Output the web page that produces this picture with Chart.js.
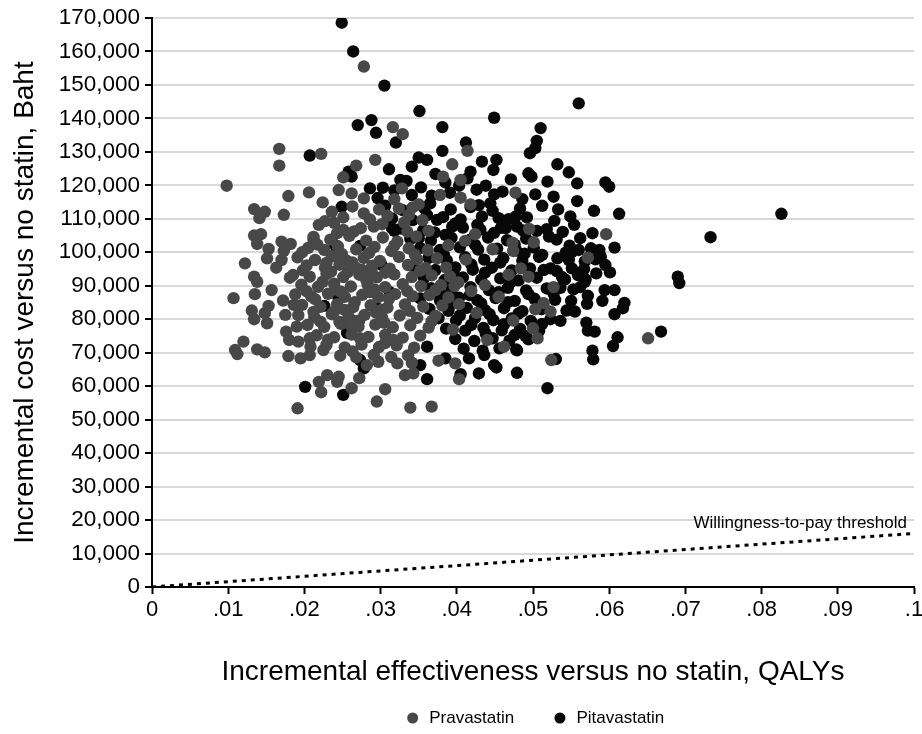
<!DOCTYPE html>
<html>
<head>
<meta charset="utf-8">
<script src="https://cdn.jsdelivr.net/npm/chart.js@4.4.0/dist/chart.umd.min.js"></script>
<style>
  html, body { margin: 0; padding: 0; background: #fff; }
</style>
</head>
<body>
<canvas id="myChart" width="922" height="734"></canvas>
<script>
// Axis labels and ticks
const xTitle = 'Incremental effectiveness versus no statin, QALYs';
const yTitle = 'Incremental cost versus no statin, Baht';
const xTickLabels = ['0', '.01', '.02', '.03', '.04', '.05', '.06', '.07', '.08', '.09', '.1'];
const seriesNames = ['Pravastatin', 'Pitavastatin'];
const seriesColors = ['#484848', '#080808'];

// Willingness-to-pay threshold line (QALY, Baht)
const wtpLabel = 'Willingness-to-pay threshold';
const wtpQaly = [0, 0.1];
const wtpCost = [0, 16000];

// Pravastatin simulations: [incremental QALY, incremental cost in Baht]
const pravastatin = [
  [.0098,119900],[.0167,130900],[.0167,125900],[.0222,129400],[.0179,116800],[.0206,117900],[.0224,114900],
  [.0134,112900],[.0148,112100],[.0141,110200],[.0173,111200],[.0219,108200],[.0134,105000],[.0143,105400],
  [.0138,102500],[.0153,101000],[.0170,103200],[.0182,102500],[.0173,100400],[.0151,98200],[.0170,97700],
  [.0122,96700],[.0163,95400],[.0197,100000],[.0212,103700],[.0134,92700],[.0181,92400],[.0107,86300],
  [.0135,87500],[.0157,88700],[.0138,91200],[.0131,82600],[.0134,80000],[.0148,81800],[.0153,84000],
  [.0151,78800],[.0120,73300],[.0109,70800],[.0112,69600],[.0138,71000],[.0148,70100],[.0179,69000],
  [.0195,68300],[.0207,69300],[.0225,70800],[.0230,63300],[.0219,61300],[.0222,58200],[.0191,53400],
  [.0172,85600],[.0186,84300],[.0175,81300],[.0190,77800],[.0176,76300],[.0180,73800],[.0192,73300],
  [.0207,74300],[.0208,71800],[.0295,55400],[.0339,53600],[.0367,53900],[.0306,59100],[.0243,61300],
  [.0262,59400],[.0272,62400],[.0332,63300],[.0343,63800],[.0403,62100],[.0398,66800],[.0376,67600],
  [.0322,66800],[.0341,67000],[.0297,67300],[.0282,66300],[.0245,62800],[.0462,71800],[.0440,73800],
  [.0278,155500],[.0316,137400],[.0329,135300],[.0293,127600],[.0414,130300],[.0268,125900],[.0251,122400],
  [.0394,126300],[.0382,122600],[.0405,121600],[.0328,119100],[.0245,118600],[.0262,117600],[.0278,116100],
  [.0350,114300],[.0378,117100],[.0405,116300],[.0418,114300],[.0236,112100],[.0324,113100],[.0278,111600],
  [.0337,111100],[.0424,105400],[.0411,103400],[.0363,106400],[.0335,106200],[.0302,108400],[.0291,107700],
  [.0251,106700],[.0243,105700],[.0265,106200],[.0477,117800],[.0495,107000],[.0501,103000],[.0596,105400],
  [.0572,98400],[.0484,95200],[.0473,102900],[.0474,100400],[.0494,92700],[.0651,74300],[.0524,67800],
  [.0527,89600],[.0523,82300],[.0514,84800],[.0503,83000],[.0500,77300],[.0506,74300],
  [.0227,109300],[.0251,110400],[.0286,109800],[.0309,110900],[.0331,108900],
  [.0212,104600],[.0234,103800],[.0259,104900],[.0281,103500],[.0303,104400],[.0322,103200],[.0347,104700],
  [.0205,101300],[.0226,100700],[.0244,101800],[.0268,100900],[.0292,101600],[.0314,100400],[.0337,101200],[.0362,100600],
  [.0191,98500],[.0214,97700],[.0236,98800],[.0255,97600],[.0278,98300],[.0299,97400],[.0324,98600],[.0348,97900],[.0374,98200],
  [.0203,96100],[.0227,95400],[.0246,96300],[.0269,95200],[.0289,96000],[.0312,95100],[.0336,96200],[.0359,95300],
  [.0185,93200],[.0207,92700],[.0229,93500],[.0251,92600],[.0272,93300],[.0295,92500],[.0318,93400],[.0341,92600],[.0367,93100],[.0391,92800],
  [.0196,90300],[.0218,89700],[.0239,90600],[.0261,89800],[.0283,90400],[.0306,89600],[.0329,90500],[.0353,89900],[.0379,90200],
  [.0188,87400],[.0209,86800],[.0231,87600],[.0253,86700],[.0276,87300],[.0297,86600],[.0319,87500],[.0342,86900],[.0364,87200],[.0389,86500],
  [.0197,84300],[.0221,83700],[.0243,84500],[.0264,83600],[.0287,84200],[.0309,83500],[.0332,84400],[.0356,83800],[.0381,84100],
  [.0192,81200],[.0213,80600],[.0236,81500],[.0258,80700],[.0279,81300],[.0302,80500],[.0325,81100],[.0348,80400],[.0372,81000],
  [.0204,78300],[.0226,77700],[.0248,78600],[.0271,77800],[.0293,78400],[.0316,77600],[.0339,78200],[.0363,77500],
  [.0216,75200],[.0239,74600],[.0262,75400],[.0284,74700],[.0306,75300],[.0329,74500],[.0352,75100],
  [.0229,72300],[.0253,71600],[.0275,72400],[.0298,71700],[.0321,72200],[.0344,71500],
  [.0247,69100],[.0268,68600],[.0291,69300],[.0314,68700],[.0336,69200],
  [.0224,91200],[.0248,88200],[.0266,85100],[.0281,91800],[.0239,82300],[.0257,94100],[.0292,88900],[.0214,86000],
  [.0272,79600],[.0229,96800],[.0301,82800],[.0246,79200],[.0263,97000],[.0288,94600],[.0311,86100],
  [.0412,97800],[.0437,90200],[.0455,86700],[.0426,81900],[.0468,93300],[.0403,84500],[.0447,100900],
  [.0389,102100],[.0419,88400],[.0474,79600],[.0395,76900],
  [.0217,102300],[.0249,99500],[.0285,99800],[.0318,102000],[.0345,99300],[.0198,94600],[.0235,94200],
  [.0276,94700],[.0306,93900],[.0352,94500],[.0203,88300],[.0241,88900],[.0286,88100],[.0335,88400],
  [.0372,88700],[.0212,82200],[.0253,82800],[.0294,82000],[.0338,82500],[.0367,79400],[.0221,79300],
  [.0261,78200],[.0305,78900],[.0231,73900],[.0273,74300],[.0317,73800],[.0263,70400],[.0306,72900],
  [.0397,89900],[.0386,95400],[.0402,91000],[.0239,108800],[.0263,113700],[.0298,112800],[.0318,115900],
  [.0342,113400],[.0355,109600],[.0274,107200]
];

// Pitavastatin simulations: [incremental QALY, incremental cost in Baht]
const pitavastatin = [
  [.0249,168600],[.0264,160000],[.0305,149800],[.0351,142200],[.0449,140200],[.0270,138000],[.0288,139500],
  [.0294,135700],[.0381,137400],[.0412,132800],[.0320,132800],[.0560,144500],[.0510,137100],[.0505,133300],
  [.0207,128900],[.0381,130300],[.0350,128300],[.0361,127600],[.0258,124100],[.0262,122600],[.0341,125600],
  [.0433,127100],[.0452,127600],[.0448,124600],[.0418,124100],[.0385,120900],[.0414,122100],[.0438,119900],
  [.0326,121600],[.0303,119300],[.0286,119100],[.0341,117100],[.0365,114600],[.0429,114100],[.0444,114600],
  [.0460,118100],[.0249,113600],[.0306,113900],[.0361,111100],[.0374,109700],[.0455,110200],[.0464,107200],
  [.0427,108200],[.0394,107700],[.0385,105200],[.0350,104200],[.0315,107200],[.0240,102200],
  [.0503,131100],[.0496,129600],[.0532,126300],[.0547,123900],[.0494,123600],[.0498,122600],[.0519,121100],
  [.0558,120600],[.0595,120900],[.0600,119600],[.0486,115900],[.0558,115300],[.0580,112400],[.0613,111500],
  [.0528,109400],[.0554,108200],[.0477,110600],[.0479,107700],[.0505,106400],[.0607,101400],[.0548,102000],
  [.0560,100700],[.0576,101200],[.0587,100700],[.0589,98700],[.0595,96200],[.0601,94000],[.0583,93700],
  [.0551,95200],[.0532,98200],[.0512,99200],[.0523,95200],[.0514,94700],[.0569,91900],
  [.0826,111500],[.0733,104500],[.0690,92700],[.0692,90800],[.0594,88700],[.0607,88700],[.0591,85500],
  [.0620,84900],[.0618,83300],[.0607,81500],[.0668,76300],[.0611,74600],
  [.0519,59400],[.0530,68100],[.0479,64000],[.0579,68000],[.0578,70600],[.0605,72000],[.0570,79000],
  [.0572,76600],[.0581,76300],[.0536,79500],[.0572,87000],[.0550,85500],[.0562,89600],[.0568,91200],
  [.0512,78600],[.0490,75000],[.0478,71000],
  [.0251,57400],[.0361,62100],[.0405,63600],[.0429,63800],[.0449,66300],[.0452,65600],[.0436,69300],
  [.0416,68300],[.0385,68300],[.0352,66300],[.0361,71800],[.0278,65300],[.0273,67800],[.0201,59800],
  [.0329,112600],[.0357,113300],[.0392,112800],[.0418,113500],[.0447,112400],[.0483,113100],
  [.0315,110100],[.0342,109600],[.0382,110500],[.0405,109800],[.0433,110700],[.0468,109900],[.0492,110400],
  [.0327,107100],[.0356,106600],[.0408,107400],[.0431,106800],[.0458,107300],[.0487,106500],[.0518,106900],
  [.0339,104000],[.0366,103500],[.0393,104300],[.0417,103700],[.0441,104400],[.0466,103600],[.0491,104100],[.0531,103800],
  [.0352,101300],[.0378,100700],[.0404,101500],[.0428,100800],[.0453,101100],[.0478,100500],[.0501,101400],[.0551,100100],
  [.0363,98300],[.0387,97600],[.0411,98500],[.0436,97800],[.0461,98200],[.0486,97500],[.0508,98600],[.0547,97700],
  [.0345,95300],[.0372,94700],[.0398,95500],[.0421,94800],[.0446,95400],[.0472,94600],[.0496,95200],[.0531,94400],[.0567,95000],
  [.0357,92300],[.0384,91700],[.0408,92500],[.0432,91800],[.0457,92200],[.0481,91600],[.0505,92400],[.0542,91900],
  [.0366,89300],[.0393,88800],[.0418,89600],[.0442,88700],[.0467,89400],[.0491,88600],[.0518,89200],[.0553,88900],
  [.0352,86200],[.0378,85600],[.0403,86400],[.0427,85700],[.0451,86300],[.0476,85500],[.0502,86100],[.0529,85800],
  [.0364,83100],[.0389,82500],[.0413,83400],[.0437,82700],[.0462,83300],[.0486,82400],[.0511,83000],[.0544,82600],
  [.0376,80300],[.0399,79600],[.0424,80400],[.0448,79700],[.0472,80200],[.0497,79500],[.0523,80000],
  [.0386,77200],[.0411,76600],[.0435,77400],[.0459,76700],[.0483,77100],[.0508,76500],
  [.0398,74100],[.0423,73500],[.0447,74300],[.0469,73600],[.0494,74000],
  [.0409,71200],[.0434,70600],[.0456,71300],[.0479,70700],
  [.0245,86100],[.0282,92200],[.0265,79400],[.0301,96300],[.0239,99100],[.0226,84000],[.0296,83200],
  [.0312,88100],[.0273,101900],[.0318,106400],[.0256,75900],
  [.0296,116200],[.0318,118500],[.0334,121300],[.0353,119400],[.0372,123400],[.0391,117800],[.0403,119900],
  [.0426,118700],[.0311,124800],[.0367,116900],[.0449,117300],[.0471,121800],
  [.0521,104700],[.0539,106100],[.0562,104200],[.0543,99900],[.0568,97300],[.0538,92600],[.0559,93200],
  [.0527,87600],[.0571,84600],[.0555,82300],[.0536,89400],[.0582,97900],[.0549,110700],[.0533,112800],
  [.0512,113900],[.0503,117300],[.0527,116600],[.0578,105700],
  [.0371,105900],[.0398,108600],[.0424,102200],[.0449,105800],[.0476,102300],[.0383,99200],[.0419,96400],
  [.0457,96900],[.0489,99600],[.0396,93300],[.0437,93900],[.0471,91200],[.0379,87600],[.0417,87200],
  [.0455,88100],[.0494,87500],[.0391,84300],[.0432,84700],[.0467,85100],[.0404,81100],[.0443,81500],
  [.0481,81700],[.0419,78300],[.0462,78500],[.0501,78200],[.0438,75700],[.0476,75300]
];

const fontFamily = '"Liberation Sans", Arial, Helvetica, sans-serif';
Chart.defaults.font.family = fontFamily;
Chart.defaults.color = '#000';

const toPoints = arr => arr.map(p => ({ x: p[0], y: p[1] }));

// Legend drawn under the x-axis title
const bottomLegend = {
  id: 'bottomLegend',
  afterDraw(chart) {
    const { ctx, chartArea } = chart;
    ctx.save();
    ctx.font = '17px ' + fontFamily;
    ctx.textBaseline = 'middle';
    ctx.textAlign = 'left';
    const widths = seriesNames.map(n => 21.5 + ctx.measureText(n).width);
    const gap = 40.7;
    const total = widths.reduce((a, b) => a + b, 0) + gap * (seriesNames.length - 1);
    let x = (chartArea.left + chartArea.right) / 2 + 3 - total / 2;
    const y = 718;
    seriesNames.forEach((n, i) => {
      ctx.fillStyle = seriesColors[i];
      ctx.beginPath();
      ctx.arc(x + 5, y, 5.5, 0, Math.PI * 2);
      ctx.fill();
      ctx.fillStyle = '#000';
      ctx.fillText(n, x + 21.5, y);
      x += widths[i] + gap;
    });
    ctx.restore();
  }
};

// Label of the threshold line
const wtpText = {
  id: 'wtpText',
  afterDatasetsDraw(chart) {
    const { ctx, scales } = chart;
    const x = scales.x.getPixelForValue(wtpQaly[1]) - 7;
    const y = scales.y.getPixelForValue(wtpCost[1]) - 10;
    ctx.save();
    ctx.font = '17px ' + fontFamily;
    ctx.fillStyle = '#000';
    ctx.textAlign = 'right';
    ctx.textBaseline = 'middle';
    ctx.fillText(wtpLabel, x, y);
    ctx.restore();
  }
};

const ctx = document.getElementById('myChart').getContext('2d');

const myChart = new Chart(ctx, {
  type: 'scatter',
  data: {
    datasets: [
      {
        label: seriesNames[0],
        data: toPoints(pravastatin),
        backgroundColor: seriesColors[0],
        pointRadius: 6.2,
        pointBorderWidth: 0,
        pointHoverRadius: 6.2
      },
      {
        label: seriesNames[1],
        data: toPoints(pitavastatin),
        backgroundColor: seriesColors[1],
        pointRadius: 6.2,
        pointBorderWidth: 0,
        pointHoverRadius: 6.2
      },
      {
        label: wtpLabel,
        data: wtpQaly.map((q, i) => ({ x: q, y: wtpCost[i] })),
        showLine: true,
        borderColor: '#000',
        borderWidth: 3,
        borderDash: [4, 5],
        pointRadius: 0,
        fill: false
      }
    ]
  },
  options: {
    responsive: false,
    animation: false,
    events: [],
    layout: { padding: { top: 18, right: 8, bottom: 37, left: 0 } },
    plugins: {
      legend: { display: false },
      tooltip: { enabled: false }
    },
    scales: {
      x: {
        type: 'linear',
        min: 0,
        max: 0.1,
        ticks: {
          stepSize: 0.01,
          autoSkip: false,
          maxRotation: 0,
          padding: 3,
          color: '#000',
          font: { size: 22 },
          callback: (v, i) => xTickLabels[i]
        },
        grid: { drawOnChartArea: false, tickColor: '#000', tickLength: 7, tickWidth: 2 },
        border: { color: '#000', width: 2 },
        title: { display: true, text: xTitle, color: '#000', font: { size: 28 }, padding: { top: 0, bottom: 8 } },
        afterFit(s) { s.height = 110; s.paddingLeft = 0; s.paddingRight = 0; }
      },
      y: {
        min: 0,
        max: 170000,
        ticks: {
          stepSize: 10000,
          padding: 5,
          color: '#000',
          font: { size: 22.5 },
          callback: v => v.toLocaleString('en-US')
        },
        grid: { color: '#d9d9d9', lineWidth: 2, tickColor: '#000', tickLength: 7, tickWidth: 2 },
        border: { color: '#000', width: 2 },
        title: { display: true, text: yTitle, color: '#000', font: { size: 28 }, padding: { top: 8, bottom: 0 } },
        afterFit(s) { s.width = 152; s.paddingTop = 0; s.paddingBottom = 0; }
      }
    }
  },
  plugins: [bottomLegend, wtpText]
});
</script>
</body>
</html>
